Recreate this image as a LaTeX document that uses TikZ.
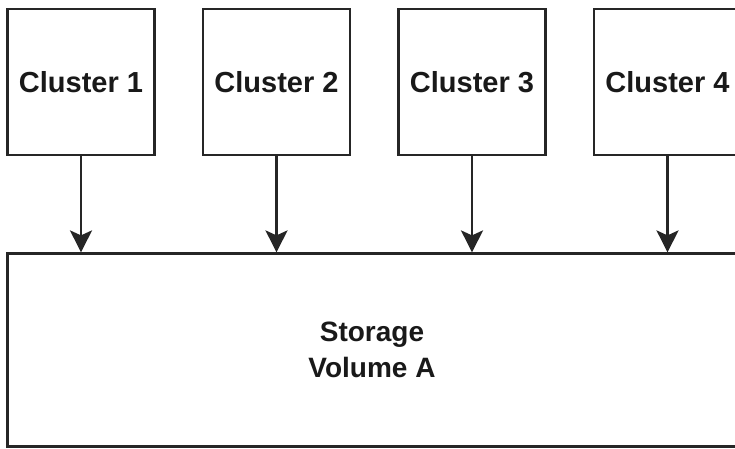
\documentclass[tikz,border=0pt]{standalone}
\usepackage{fontspec}
\setmainfont{Liberation Sans}
\usetikzlibrary{arrows.meta}
\tikzset{
  clusterbox/.style={draw=black!85, line width=2.2pt, minimum width=147pt, minimum height=146pt, inner sep=0pt, font=\fontsize{29}{35}\selectfont\bfseries, text=black!90},
  storagebox/.style={draw=black!85, line width=2.2pt, minimum width=729pt, minimum height=193pt, inner sep=0pt, align=center, font=\fontsize{28}{36}\selectfont\bfseries, text=black!90},
  conn/.style={draw=black!85, line width=2.2pt, -{Stealth[length=22pt,width=22pt,inset=5pt]}}
}
\begin{document}
\begin{tikzpicture}[x=1pt,y=-1pt]
\useasboundingbox (0,0) rectangle (735,449);
\clip (0,0) rectangle (735,449);
\fill[white] (0,0) rectangle (735,449);
\node[clusterbox] (c1) at (81,82) {Cluster 1};
\node[clusterbox] (c2) at (276.5,82) {Cluster 2};
\node[clusterbox] (c3) at (472,82) {Cluster 3};
\node[clusterbox] (c4) at (667.5,82) {Cluster 4};
\node[storagebox] (s) at (372,350) {Storage\\Volume A};
\foreach \c in {c1,c2,c3,c4}{
  \draw[conn] (\c.south) -- (\c.south |- s.north);
}
\end{tikzpicture}
\end{document}
